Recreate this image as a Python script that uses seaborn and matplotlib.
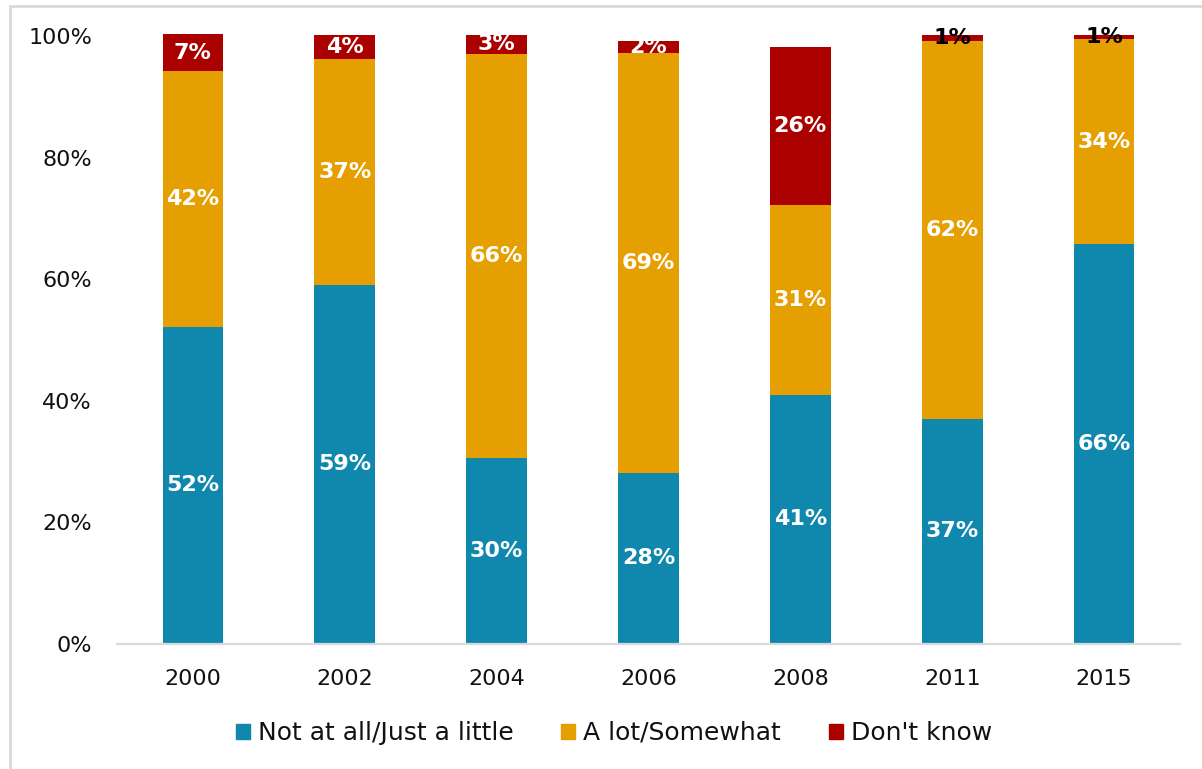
import matplotlib
matplotlib.use("Agg")
import matplotlib.pyplot as plt
import matplotlib.patches as mpatches
import seaborn as sns
import numpy as np

years = ["2000", "2002", "2004", "2006", "2008", "2011", "2015"]
# segment heights
not_at_all = [52.1, 59.1, 30.5, 28.1, 41.0, 37.0, 65.8]
a_lot = [42.1, 37.1, 66.6, 69.2, 31.2, 62.2, 33.7]
dont_know = [6.1, 4.0, 3.1, 1.9, 26.0, 1.0, 0.7]
# printed labels
not_at_all_lbl = [52, 59, 30, 28, 41, 37, 66]
a_lot_lbl = [42, 37, 66, 69, 31, 62, 34]
dont_know_lbl = [7, 4, 3, 2, 26, 1, 1]
series_names = ["Not at all/Just a little", "A lot/Somewhat", "Don't know"]
colors = ["#1087AD", "#E69F00", "#AA0000"]

sns.set_theme(style="white")
plt.rcParams["font.family"] = ["DejaVu Sans"]

fig = plt.figure(figsize=(12.02, 7.69), dpi=100)
px100 = 6.075
y0 = 643.7
ytop = 102
ax = fig.add_axes([117/1202, 1-y0/769, (1180-117)/1202, ytop*px100/769])

series = [not_at_all, a_lot, dont_know]
labels = [not_at_all_lbl, a_lot_lbl, dont_know_lbl]
bottom = np.zeros(len(years))
for name, vals, lbls, col in zip(series_names, series, labels, colors):
    vals = np.array(vals, dtype=float)
    sns.barplot(x=years, y=vals, bottom=bottom, color=col, width=0.4,
                ax=ax, label=name, saturation=1, linewidth=0)
    for i, (v, l) in enumerate(zip(vals, lbls)):
        tc = "black" if l <= 1 else "white"
        ax.text(i, bottom[i] + v/2, f"{l}%", ha="center", va="center",
                color=tc, fontsize=16, fontweight="bold")
    bottom += vals

ax.set_ylim(0, ytop)
ax.set_xlim(-0.5, len(years)-0.5)
ax.set_yticks([0, 20, 40, 60, 80, 100])
ax.set_yticklabels([f"{t}%" for t in [0, 20, 40, 60, 80, 100]])
ax.tick_params(axis="both", length=0, labelsize=16, colors="#111111")
ax.tick_params(axis="y", pad=18)
ax.tick_params(axis="x", pad=18)
for s in ["top", "right", "left"]:
    ax.spines[s].set_visible(False)
ax.spines["bottom"].set_color("#d9d9d9")
ax.spines["bottom"].set_linewidth(1.6)
ax.set_xlabel("")
ax.set_ylabel("")
if ax.get_legend():
    ax.get_legend().remove()

handles = [mpatches.Patch(color=c, label=n) for n, c in zip(series_names, colors)]
fig.legend(handles=handles, loc="center", bbox_to_anchor=(614/1202, 1-733/769),
           ncol=3, frameon=False, fontsize=18, handlelength=0.56, handleheight=0.56,
           handletextpad=0.32, columnspacing=1.9, labelcolor="#111111")

border = mpatches.Rectangle((10/1202, -0.05), 1.2, 1-6/769+0.05, transform=fig.transFigure,
                            fill=False, edgecolor="#d9d9d9", linewidth=2)
fig.patches.append(border)

fig.savefig("out.png", dpi=100)
